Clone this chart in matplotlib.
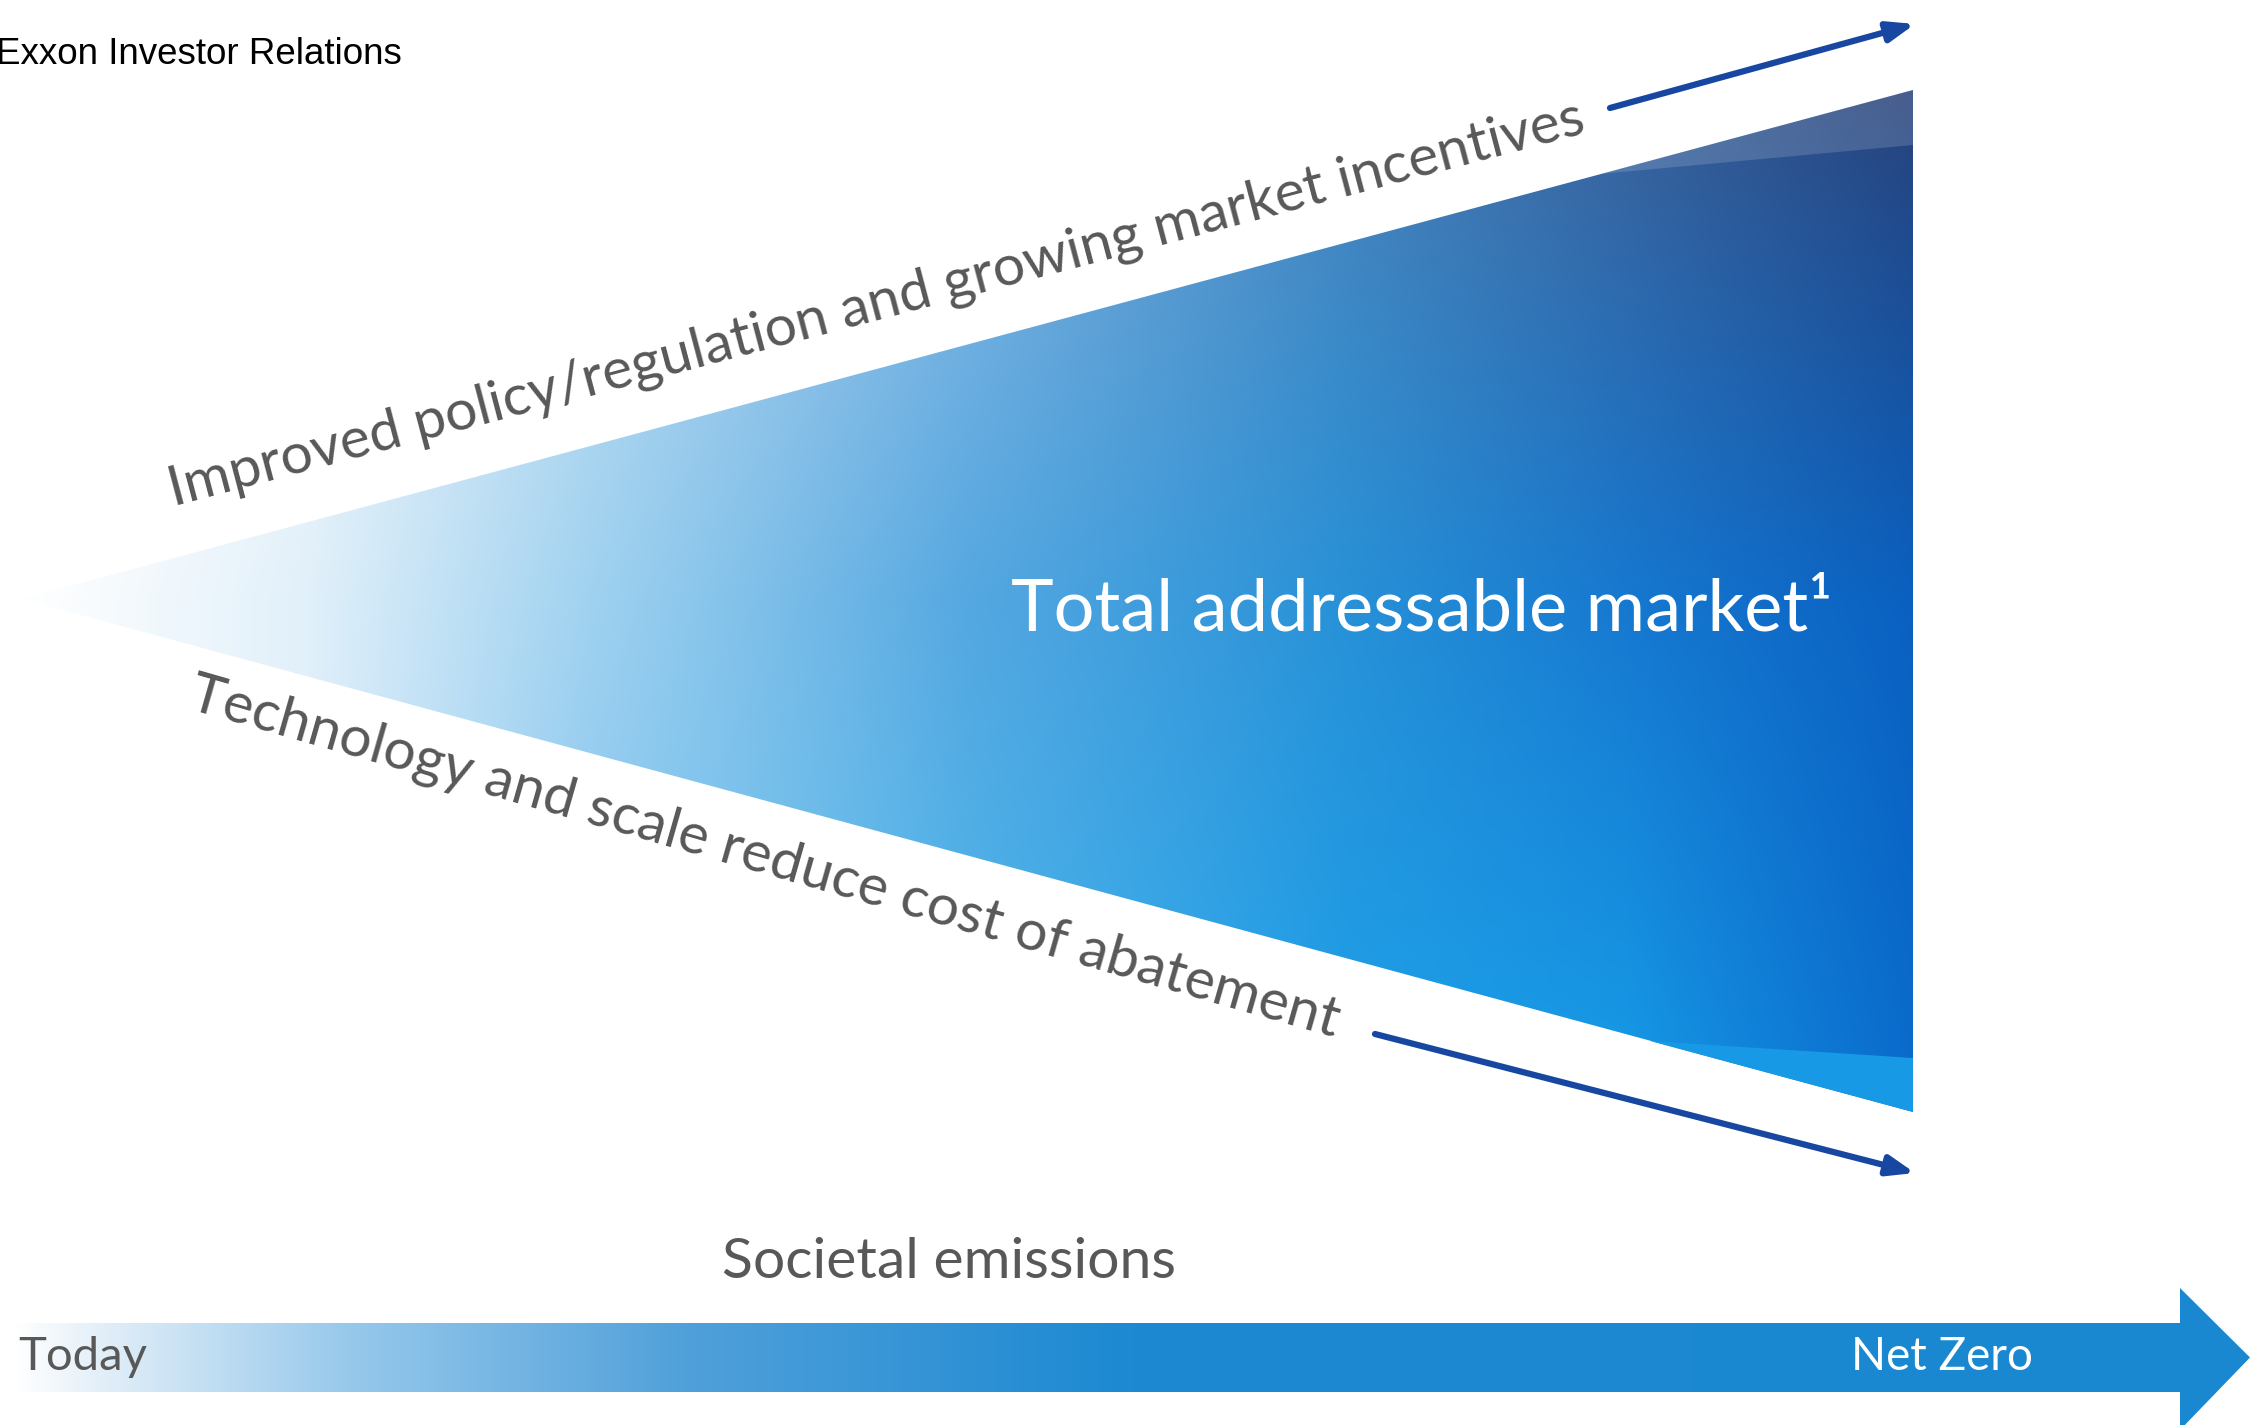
import numpy as np
import matplotlib
matplotlib.use("Agg")
import matplotlib.pyplot as plt
from matplotlib.patches import Polygon

W, H = 2264, 1425

# shape geometry (pixel coords, y down)
apex = (22, 599)
top_right = (1913, 90)
bot_right = (1913, 1112)
top_strip = [(1600, 174), (1913, 90), (1913, 145)]
bot_strip = [(1650, 1041), (1913, 1112), (1913, 1058)]
arrow_up = [(1610, 108), (1915, 24)]
arrow_down = [(1375, 1034), (1915, 1173)]
bar_left, bar_right = 15, 2180
bar_top, bar_bot = 1323, 1392
head_tip = 2250
head_top, head_bot = 1288, 1430

# gradient stops along the wedge: fraction, top edge, middle, bottom edge
stops_t = [0.0, 0.15, 0.3, 0.5, 0.7, 0.85, 1.0]
top_col = [(255, 255, 255), (228, 241, 250), (170, 213, 240), (110, 175, 225), (65, 135, 195), (55, 100, 160), (40, 66, 122)]
mid_col = [(255, 255, 255), (225, 240, 250), (160, 210, 240), (85, 168, 225), (40, 145, 215), (22, 120, 208), (10, 96, 192)]
bot_col = [(255, 255, 255), (225, 240, 250), (152, 206, 240), (80, 175, 230), (32, 155, 228), (22, 150, 228), (10, 108, 205)]

bar_t = [0.0, 0.04, 0.15, 0.3, 0.5, 1.0]
bar_col = [(255, 255, 255), (225, 238, 248), (150, 200, 235), (80, 160, 218), (28, 137, 210), (26, 136, 208)]

fig = plt.figure(figsize=(W / 100, H / 100), dpi=100)
ax = fig.add_axes([0, 0, 1, 1])
ax.set_xlim(0, W)
ax.set_ylim(H, 0)
ax.axis("off")

# wedge gradient image
xs = np.linspace(apex[0], top_right[0], 600)
ys = np.linspace(top_right[1], bot_right[1], 400)
X, Y = np.meshgrid(xs, ys)
t = (X - apex[0]) / (top_right[0] - apex[0])
half = np.maximum(t * (bot_right[1] - top_right[1]) / 2, 1e-6)
v = np.clip((Y - apex[1]) / half, -1, 1)

def interp(cols):
    cols = np.array(cols, dtype=float) / 255
    return np.stack([np.interp(t, stops_t, cols[:, k]) for k in range(3)], axis=-1)

ct, cm, cb = interp(top_col), interp(mid_col), interp(bot_col)
vv = v[..., None]
img = np.where(vv < 0, cm + (ct - cm) * (-vv), cm + (cb - cm) * vv)
img = np.clip(img, 0, 1)

wedge = Polygon([apex, top_right, bot_right], closed=True, facecolor="none", edgecolor="none")
ax.add_patch(wedge)
im = ax.imshow(img, extent=(apex[0], top_right[0], bot_right[1], top_right[1]),
               interpolation="bilinear", zorder=1)
im.set_clip_path(wedge)

# lighter strips along the right edges
ax.add_patch(Polygon(top_strip, closed=True, facecolor="white", alpha=0.15,
                     edgecolor="none", zorder=2))
ax.add_patch(Polygon(bot_strip, closed=True, facecolor=(0.09, 0.60, 0.90),
                     edgecolor="none", zorder=2))

# side arrows
for (p0, p1) in (arrow_up, arrow_down):
    ax.annotate("", xy=p1, xytext=p0,
                arrowprops=dict(arrowstyle="-|>,head_length=1.6,head_width=0.6",
                                color="#1747a0", lw=4.5, shrinkA=0, shrinkB=0), zorder=3)

# bottom bar arrow with gradient
bt = np.linspace(0, 1, 800)
bc = np.array(bar_col, dtype=float) / 255
bimg = np.stack([np.interp(bt, bar_t, bc[:, k]) for k in range(3)], axis=-1)[None, :, :]
bar_shape = Polygon([(bar_left, bar_top), (bar_right, bar_top), (bar_right, head_top),
                     (head_tip, (bar_top + bar_bot) / 2), (bar_right, head_bot),
                     (bar_right, bar_bot), (bar_left, bar_bot)], closed=True,
                    facecolor="none", edgecolor="none")
ax.add_patch(bar_shape)
bim = ax.imshow(np.repeat(bimg, 2, axis=0), extent=(bar_left, head_tip, head_bot, head_top),
                aspect="auto", interpolation="bilinear", zorder=1)
bim.set_clip_path(bar_shape)
ax.set_xlim(0, W)
ax.set_ylim(H, 0)

fam = ["Lato", "DejaVu Sans"]
grey = "#585858"

ax.text(-4, 54, "Exxon Investor Relations", fontsize=26.5, family="Liberation Sans",
        color="black", ha="left", va="center")

ax.text(876, 304, "Improved policy/regulation and growing market incentives",
        fontsize=41, family=fam, color=grey,
        rotation=14.8, rotation_mode="anchor", ha="center", va="center", zorder=4)
ax.text(765, 858, "Technology and scale reduce cost of abatement",
        fontsize=41, family=fam, color=grey,
        rotation=-16.0, rotation_mode="anchor", ha="center", va="center", zorder=4)

ax.text(1422, 610, "Total addressable market\u00b9", fontsize=52, family=fam,
        color="white", ha="center", va="center", zorder=4)

ax.text(949, 1263, "Societal emissions", fontsize=41, family=fam,
        color=grey, ha="center", va="center")
ax.text(18, 1357, "Today", fontsize=34, family=fam,
        color=grey, ha="left", va="center", zorder=4)
ax.text(1942, 1357, "Net Zero", fontsize=33, family=fam,
        color="white", ha="center", va="center", zorder=4)

fig.savefig("out.png", dpi=100, facecolor="white")
